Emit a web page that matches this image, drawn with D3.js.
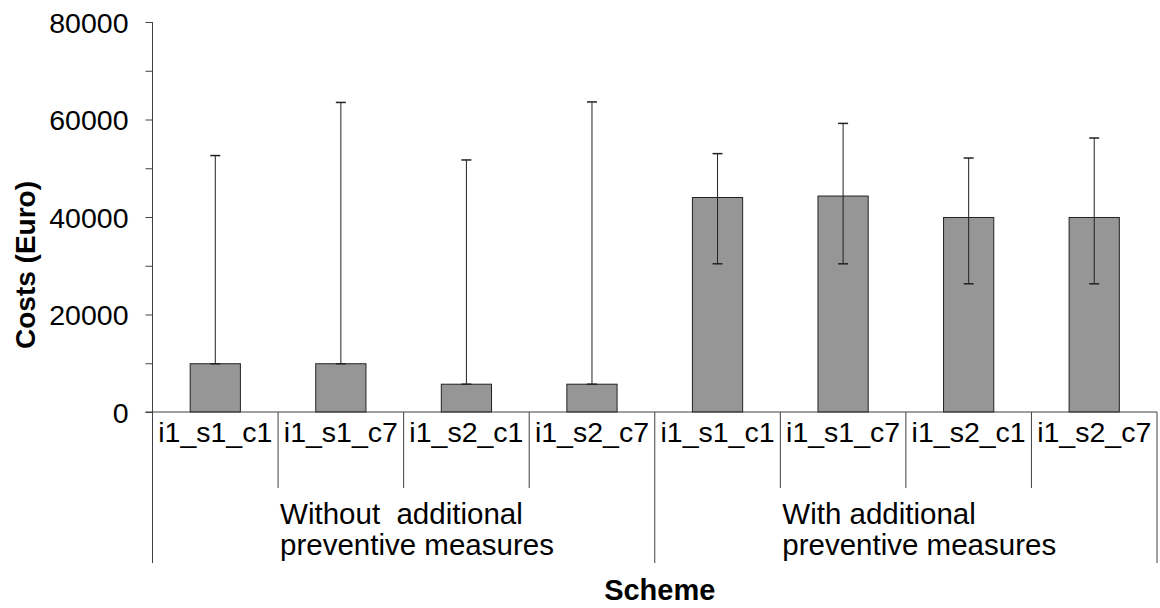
<!DOCTYPE html>
<html>
<head>
<meta charset="utf-8">
<script src="https://cdn.jsdelivr.net/npm/d3@7"></script>
<style>
  body { margin: 0; background: #fff; }
  svg text { font-family: "Liberation Sans", Arial, sans-serif; fill: #000; }
  .axis path, .axis line { stroke: #404040; }
</style>
</head>
<body>
<div id="chart"></div>
<script>

// scheme labels, one per bar
var schemes = ["i1_s1_c1", "i1_s1_c7", "i1_s2_c1", "i1_s2_c7",
               "i1_s1_c1", "i1_s1_c7", "i1_s2_c1", "i1_s2_c7"];
// outer grouping (4 bars each)
var groupLabels = [["Without  additional", "preventive measures"],
                   ["With additional", "preventive measures"]];
var groupSize = 4;

// mean cost and error bar ends (Euro)
var costs   = [9900, 9900, 5700, 5700, 44000, 44300, 39900, 39900];
var errHigh = [52600, 63500, 51700, 63600, 53000, 59200, 52100, 56200];
var errLow  = [9900, 9900, 5700, 5700, 30400, 30400, 26300, 26300];

var yTicks = [0, 10000, 20000, 30000, 40000, 50000, 60000, 70000, 80000];

var W = 1160, H = 608;
var margin = { top: 22, right: 3, bottom: 196, left: 152.5 };
var width = W - margin.left - margin.right;
var height = H - margin.top - margin.bottom;

var svg = d3.select("#chart").append("svg")
    .attr("width", W)
    .attr("height", H);

var g = svg.append("g")
    .attr("transform", "translate(" + margin.left + "," + margin.top + ")");

var x = d3.scaleBand()
    .domain(d3.range(schemes.length))
    .range([0, width])
    .padding(0);

var y = d3.scaleLinear()
    .domain([0, 80000])
    .range([height, 0]);

var barW = x.bandwidth() * 0.4;

// y axis
var yAxis = d3.axisLeft(y)
    .tickValues(yTicks)
    .tickSize(7)
    .tickPadding(17)
    .tickFormat(function(d){ return d % 20000 == 0 ? d : ""; });

g.append("g")
    .attr("class", "axis")
    .call(yAxis)
    .call(function(s){
      s.select(".domain").remove();
      s.selectAll("text").style("font-size", "28.5px").attr("dy", "0.36em");
    });

// axis line, runs down through the category area too
var outerDrop = 151;
var innerDrop = 76;
g.append("line")
    .attr("x1", 0).attr("x2", 0)
    .attr("y1", 0).attr("y2", height + outerDrop)
    .attr("stroke", "#404040");

// bars
g.selectAll(".bar")
    .data(costs)
    .enter().append("rect")
    .attr("class", "bar")
    .attr("x", function(d, i){ return x(i) + (x.bandwidth() - barW) / 2; })
    .attr("y", function(d){ return y(d); })
    .attr("width", barW)
    .attr("height", function(d){ return height - y(d); })
    .attr("fill", "#969696")
    .attr("stroke", "#222")
    .attr("stroke-width", 1);

// error bars
var capW = 10;
var eb = g.selectAll(".err")
    .data(costs)
    .enter().append("g")
    .attr("class", "err")
    .attr("transform", function(d, i){ return "translate(" + (x(i) + x.bandwidth() / 2) + ",0)"; });

eb.append("line")
    .attr("y1", function(d, i){ return y(errLow[i]); })
    .attr("y2", function(d, i){ return y(errHigh[i]); })
    .attr("stroke", "#222");
eb.append("line")
    .attr("x1", -capW / 2).attr("x2", capW / 2)
    .attr("y1", function(d, i){ return y(errHigh[i]); })
    .attr("y2", function(d, i){ return y(errHigh[i]); })
    .attr("stroke", "#222").attr("stroke-width", 1.5);
eb.append("line")
    .attr("x1", -capW / 2).attr("x2", capW / 2)
    .attr("y1", function(d, i){ return y(errLow[i]); })
    .attr("y2", function(d, i){ return y(errLow[i]); })
    .attr("stroke", "#222").attr("stroke-width", 1.5);

// baseline
g.append("line")
    .attr("x1", -7).attr("x2", width)
    .attr("y1", height).attr("y2", height)
    .attr("stroke", "#404040");

// category separators
g.selectAll(".sep")
    .data(d3.range(1, schemes.length + 1))
    .enter().append("line")
    .attr("class", "sep")
    .attr("x1", function(i){ return i == schemes.length ? width : x(i); })
    .attr("x2", function(i){ return i == schemes.length ? width : x(i); })
    .attr("y1", height)
    .attr("y2", function(i){ return i % groupSize == 0 ? height + outerDrop : height + innerDrop; })
    .attr("stroke", "#404040");

// scheme labels
g.selectAll(".cat")
    .data(schemes)
    .enter().append("text")
    .attr("class", "cat")
    .attr("x", function(d, i){ return x(i) + x.bandwidth() / 2; })
    .attr("y", height + 30)
    .attr("text-anchor", "middle")
    .style("font-size", "28.5px")
    .text(function(d){ return d; });

// group labels
groupLabels.forEach(function(lines, gi){
  var t = g.append("text")
      .attr("x", x(gi * groupSize + 1) + 2)
      .attr("y", height + 112)
      .style("font-size", "29.5px")
      .style("white-space", "pre");
  lines.forEach(function(l, li){
    t.append("tspan")
      .attr("x", x(gi * groupSize + 1) + 2)
      .attr("dy", li == 0 ? 0 : 31)
      .text(l);
  });
});

// axis titles
svg.append("text")
    .attr("x", margin.left + width / 2 + 5)
    .attr("y", 600)
    .attr("text-anchor", "middle")
    .style("font-size", "29px")
    .style("font-weight", "bold")
    .text("Scheme");

svg.append("text")
    .attr("transform", "translate(35,265) rotate(-90)")
    .attr("text-anchor", "middle")
    .style("font-size", "28px")
    .style("font-weight", "bold")
    .text("Costs (Euro)");

</script>
</body>
</html>
